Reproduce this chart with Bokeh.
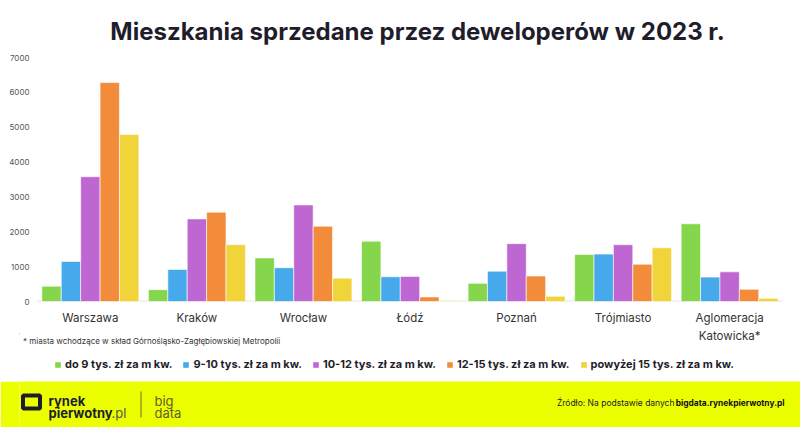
from bokeh.plotting import figure
from bokeh.models import (FactorRange, Range1d, Legend, LegendItem, Label,
                          ColumnDataSource, FixedTicker)
from bokeh.transform import dodge
from bokeh.layouts import column
from bokeh.embed import file_html
from bokeh.resources import INLINE

# ---------------- data ----------------
cities = ["Warszawa", "Kraków", "Wrocław", "Łódź", "Poznań", "Trójmiasto",
          "Aglomeracja\nKatowicka*"]
do_9 = [440, 340, 1250, 1730, 520, 1350, 2230]
od_9_do_10 = [1150, 920, 970, 710, 870, 1360, 700]
od_10_do_12 = [3580, 2370, 2770, 720, 1660, 1630, 850]
od_12_do_15 = [6280, 2560, 2160, 130, 730, 1070, 350]
powyzej_15 = [4790, 1630, 670, 20, 150, 1540, 90]
series_labels = ["do 9 tys. zł za m kw.", "9-10 tys. zł za m kw.",
                 "10-12 tys. zł za m kw.", "12-15 tys. zł za m kw.",
                 "powyżej 15 tys. zł za m kw."]
y_ticks = [0, 1000, 2000, 3000, 4000, 5000, 6000, 7000]

title_text = "Mieszkania sprzedane przez deweloperów w 2023 r."
footnote_text = "* miasta wchodzące w skład Górnośląsko-Zagłębiowskiej Metropolii"

# ---------------- style ----------------
colors = ["#86D64C", "#46A9EB", "#BE66D1", "#F28C3A", "#F1D33A"]
FONT = "Inter"
DARK = "#1F1D2B"
BAND = "#EBFF00"
W = 800
LEFT = 19          # frame left edge shared by all stacked figures


def blank(height, **kw):
    fig = figure(width=W, height=height, x_range=Range1d(LEFT, W),
                 y_range=Range1d(height, 0), output_backend="svg",
                 toolbar_location=None, min_border=0, min_border_left=LEFT,
                 x_axis_location=None, y_axis_location=None, **kw)
    fig.grid.visible = False
    fig.outline_line_color = None
    return fig


# ---------------- title ----------------
t = blank(50)
t.add_layout(Label(x=417, y=31, text=title_text, text_align="center",
                   text_baseline="middle", text_font=FONT,
                   text_font_size="24px", text_font_style="bold",
                   text_color=DARK))

# ---------------- main chart ----------------
src = ColumnDataSource(dict(city=cities, s0=do_9, s1=od_9_do_10, s2=od_10_do_12,
                            s3=od_12_do_15, s4=powyzej_15))
p = figure(width=W, height=305,
           x_range=FactorRange(factors=cities, range_padding=0.165,
                               range_padding_units="absolute"),
           y_range=Range1d(0, 7000), output_backend="svg", toolbar_location=None,
           min_border_left=LEFT, min_border_right=0, min_border_top=17,
           min_border_bottom=42, margin=(-10, 0, 0, 0), border_fill_alpha=0)
p.outline_line_color = None
p.grid.grid_line_color = None

# light baseline under the groups
p.rect(x=cities, y=[0] * len(cities), width=1, height=2, height_units="screen",
       fill_color="#E6E6E6", line_color=None)

bw = 0.182
offsets = [-2 * bw, -bw, 0, bw, 2 * bw]
for i, (off, c) in enumerate(zip(offsets, colors)):
    p.vbar(x=dodge("city", off, range=p.x_range), top=f"s{i}", width=bw,
           source=src, fill_color=c, line_color="white", line_alpha=0.6,
           line_width=1)

p.yaxis.ticker = FixedTicker(ticks=y_ticks)
p.yaxis.axis_line_color = None
p.yaxis.major_tick_line_color = None
p.yaxis.minor_tick_line_color = None
p.yaxis.major_tick_out = 0
p.yaxis.major_tick_in = 0
p.yaxis.major_label_text_font = FONT
p.yaxis.major_label_text_font_size = "8px"
p.yaxis.major_label_text_color = "#555555"
p.yaxis.major_label_standoff = -10

p.xaxis.axis_line_color = None
p.xaxis.major_tick_line_color = None
p.xaxis.minor_tick_line_color = None
p.xaxis.major_tick_out = 0
p.xaxis.major_tick_in = 0
p.xaxis.major_label_text_font = FONT
p.xaxis.major_label_text_font_size = "11.5px"
p.xaxis.major_label_text_line_height = 1.3
p.xaxis.major_label_text_color = "#333333"
p.xaxis.major_label_standoff = 9

# ---------------- footnote + legend (overlaps the axis area slightly) -------
b = blank(48, margin=(-12, 0, 0, 0), background_fill_alpha=0,
          border_fill_alpha=0)
b.add_layout(Label(x=22.5, y=7, text=footnote_text, text_baseline="middle",
                   text_font=FONT, text_font_size="8px", text_color="#333333"))
dummies = [b.vbar(x=[-100], top=[1], width=1, fill_color=c, line_color=None)
           for c in colors]
legend = Legend(items=[LegendItem(label=lab, renderers=[r])
                       for lab, r in zip(series_labels, dummies)],
                location=(54 - LEFT, 10), orientation="horizontal",
                glyph_width=7, glyph_height=7, label_standoff=4, spacing=10,
                label_height=12, padding=0, margin=0, border_line_color=None,
                background_fill_alpha=0, label_text_font=FONT,
                label_text_font_size="11px", label_text_font_style="bold",
                label_text_color=DARK)
b.add_layout(legend)

# ---------------- footer band ----------------
f = blank(46, background_fill_color=BAND, border_fill_color=BAND)
f.rect(x=[31], y=[20.5], width=[17], height=[13], fill_color=None,
       line_color=DARK, line_width=4)
f.add_layout(Label(x=48, y=19.7, text="rynek", text_baseline="alphabetic",
                   text_font=FONT, text_font_size="13px",
                   text_font_style="bold", text_color=DARK))
f.add_layout(Label(x=48, y=31, text="pierwotny", text_baseline="alphabetic",
                   text_font=FONT, text_font_size="13px",
                   text_font_style="bold", text_color=DARK))
f.add_layout(Label(x=111, y=31, text=".pl", text_baseline="alphabetic",
                   text_font=FONT, text_font_size="13px",
                   text_color="#555555"))
f.segment(x0=[140.5], y0=[10], x1=[140.5], y1=[36], line_color="#6f6f30",
          line_width=1)
f.add_layout(Label(x=154, y=19.7, text="big", text_baseline="alphabetic",
                   text_font=FONT, text_font_size="13px",
                   text_color="#5f5f30"))
f.add_layout(Label(x=154, y=31, text="data", text_baseline="alphabetic",
                   text_font=FONT, text_font_size="13px",
                   text_color="#5f5f30"))
f.add_layout(Label(x=784, y=21.7, text="bigdata.rynekpierwotny.pl",
                   text_align="right", text_baseline="middle",
                   text_font=FONT, text_font_size="8.4px",
                   text_font_style="bold", text_color="#111111"))
f.add_layout(Label(x=674, y=21.7, text="Źródło: Na podstawie danych",
                   text_align="right", text_baseline="middle",
                   text_font=FONT, text_font_size="8.5px",
                   text_color="#222222"))

layout = column(t, p, b, f, spacing=0)
open("out.html", "w").write(file_html(layout, INLINE))
